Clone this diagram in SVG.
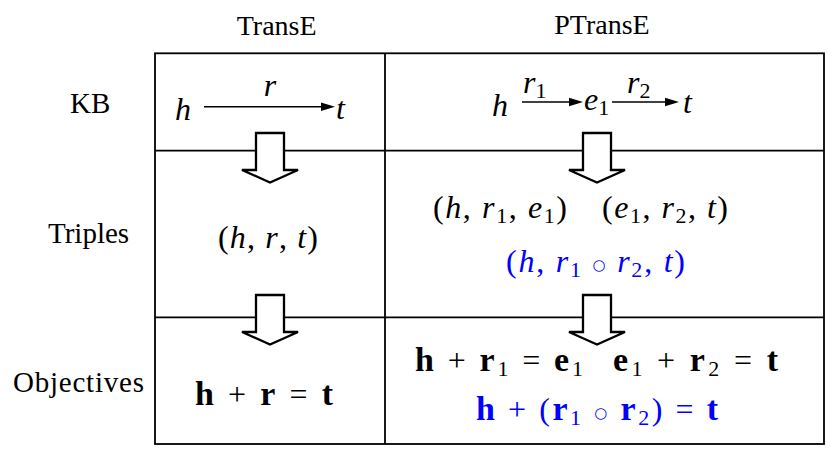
<svg xmlns="http://www.w3.org/2000/svg" width="830" height="455" viewBox="0 0 830 455">
<defs>
<style>
.lbl{font-family:"Liberation Serif","Times New Roman",serif;font-size:29px;fill:#000}
.hdr{font-family:"Liberation Serif","Times New Roman",serif;font-size:28px;fill:#000;text-anchor:middle}
.m{font-family:"Liberation Serif","DejaVu Serif",serif;font-size:32px;fill:#000}
.i{font-style:italic}
.b{font-weight:bold;font-size:34px}
.s{font-size:22px}
.o{font-family:"DejaVu Sans",sans-serif;font-size:15px;font-weight:normal}
.blue{fill:#0000ff}
.grid{fill:none;stroke:#000;stroke-width:1.8}
.blk{fill:#fff;stroke:#000;stroke-width:2.3;stroke-linejoin:miter}
.ln{stroke:#000;stroke-width:1.6;fill:none}
.hd{fill:#000}
</style>
</defs>
<rect width="830" height="455" fill="#fff"/>
<g id="table">
<rect class="grid" x="155" y="53.3" width="669" height="390.7"/>
<line class="grid" x1="385" y1="53.3" x2="385" y2="444"/>
<line class="grid" x1="155" y1="150.7" x2="824" y2="150.7"/>
<line class="grid" x1="155" y1="317.3" x2="824" y2="317.3"/>
</g>
<g id="header-transe"><text class="hdr" x="276.7" y="35">TransE</text></g>
<g id="header-ptranse"><text class="hdr" x="602" y="34">PTransE</text></g>
<g id="label-kb"><text class="lbl" x="70" y="113">KB</text></g>
<g id="label-triples"><text class="lbl" x="48" y="243">Triples</text></g>
<g id="label-objectives"><text class="lbl" x="13" y="392" textLength="131" lengthAdjust="spacing">Objectives</text></g>
<g id="kb-transe">
<text class="m i" x="175" y="119.5">h</text>
<text class="m i" x="270" y="96" text-anchor="middle">r</text>
<text class="m i" x="336" y="119">t</text>
</g>
<g id="kb-ptranse">
<text class="m i" x="492" y="115.5">h</text>
<text class="m" x="523" y="93"><tspan class="i">r</tspan><tspan class="s" dy="5">1</tspan></text>
<text class="m" x="584" y="110"><tspan class="i">e</tspan><tspan class="s" dy="5">1</tspan></text>
<text class="m" x="627" y="93"><tspan class="i">r</tspan><tspan class="s" dy="5">2</tspan></text>
<text class="m i" x="683" y="113">t</text>
</g>
<g id="triples-transe">
<text class="m" x="218" y="248" textLength="100" lengthAdjust="spacing">(<tspan class="i">h</tspan>, <tspan class="i">r</tspan>, <tspan class="i">t</tspan>)</text>
</g>
<g id="triples-ptranse">
<text class="m" x="433" y="218" textLength="134" lengthAdjust="spacing">(<tspan class="i">h</tspan>, <tspan class="i">r</tspan><tspan class="s" dy="5">1</tspan><tspan dy="-5">, </tspan><tspan class="i">e</tspan><tspan class="s" dy="5">1</tspan><tspan dy="-5">)</tspan></text>
<text class="m" x="602" y="218" textLength="126" lengthAdjust="spacing">(<tspan class="i">e</tspan><tspan class="s" dy="5">1</tspan><tspan dy="-5">, </tspan><tspan class="i">r</tspan><tspan class="s" dy="5">2</tspan><tspan dy="-5">, </tspan><tspan class="i">t</tspan>)</text>
<text class="m blue" x="506" y="272" textLength="179" lengthAdjust="spacing">(<tspan class="i">h</tspan>, <tspan class="i">r</tspan><tspan class="s" dy="5">1</tspan><tspan dy="-5"> </tspan><tspan class="o" dy="-2">○</tspan><tspan dy="2"> </tspan><tspan class="i">r</tspan><tspan class="s" dy="5">2</tspan><tspan dy="-5">, </tspan><tspan class="i">t</tspan>)</text>
</g>
<g id="objectives-transe">
<text class="m" x="195" y="405" textLength="138" lengthAdjust="spacing"><tspan class="b">h</tspan> + <tspan class="b">r</tspan> = <tspan class="b">t</tspan></text>
</g>
<g id="objectives-ptranse">
<text class="m" x="415" y="371" textLength="168" lengthAdjust="spacing"><tspan class="b">h</tspan> + <tspan class="b">r</tspan><tspan class="s" dy="5">1</tspan><tspan dy="-5"> = </tspan><tspan class="b">e</tspan><tspan class="s" dy="5">1</tspan></text>
<text class="m" x="613" y="371" textLength="165" lengthAdjust="spacing"><tspan class="b">e</tspan><tspan class="s" dy="5">1</tspan><tspan dy="-5"> + </tspan><tspan class="b">r</tspan><tspan class="s" dy="5">2</tspan><tspan dy="-5"> = </tspan><tspan class="b">t</tspan></text>
<text class="m blue" x="476" y="420" textLength="242" lengthAdjust="spacing"><tspan class="b">h</tspan> + (<tspan class="b">r</tspan><tspan class="s" dy="5">1</tspan><tspan dy="-5"> </tspan><tspan class="o" dy="-2">○</tspan><tspan dy="2"> </tspan><tspan class="b">r</tspan><tspan class="s" dy="5">2</tspan><tspan dy="-5">) = </tspan><tspan class="b">t</tspan></text>
</g>
<g id="connectors">
<line class="ln" x1="204" y1="106.7" x2="322" y2="106.7"/>
<polygon class="hd" points="321,102.4 335,106.7 321,111"/>
<line class="ln" x1="522" y1="102" x2="570" y2="102"/>
<polygon class="hd" points="569,97.7 583,102 569,106.3"/>
<line class="ln" x1="612" y1="102" x2="666" y2="102"/>
<polygon class="hd" points="665,97.7 679,102 665,106.3"/>
<polygon class="blk" points="256,133 284,133 284,170 298,170 270,182.5 242,170 256,170"/>
<polygon class="blk" points="256,295 284,295 284,332 298,332 270,344.5 242,332 256,332"/>
<polygon class="blk" points="583,133 611,133 611,170 625,170 597,182.5 569,170 583,170"/>
<polygon class="blk" points="583,295 611,295 611,332 625,332 597,344.5 569,332 583,332"/>
</g>
</svg>
